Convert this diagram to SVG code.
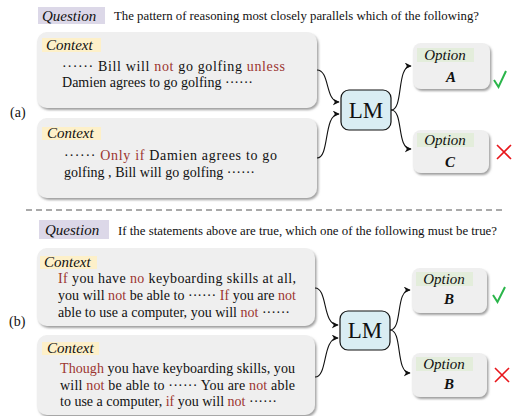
<svg xmlns="http://www.w3.org/2000/svg" width="514" height="416" viewBox="0 0 514 416">
<style>
text{font-family:"Liberation Serif","Times New Roman",serif;fill:#111}
.lab{font-style:italic;font-size:15px}
.q{font-size:12.5px}
.b{font-size:14px}
.r{fill:#9c3530}
.box{fill:#efefef;filter:url(#sh)}
.ctx{fill:#fdf0c9}
.qb{fill:#dcd8e8}
.opt{fill:#e3eddb}
.lm{fill:#d9edf3;stroke:#111;stroke-width:1.2}
.con{fill:none;stroke:#111;stroke-width:1.1;marker-end:url(#ah)}
.ok{fill:none;stroke:#2ab54a;stroke-width:2}
.no{fill:none;stroke:#e8161b;stroke-width:1.6}
.let{font-style:italic;font-weight:bold;font-size:15px;text-anchor:middle}
</style>
<defs>
<filter id="sh" x="-10%" y="-10%" width="125%" height="130%">
<feDropShadow dx="1.5" dy="2" stdDeviation="1.3" flood-color="#777" flood-opacity="0.7"/>
</filter>
<marker id="ah" viewBox="0 0 10 10" refX="9" refY="5" markerWidth="7" markerHeight="7" orient="auto" markerUnits="userSpaceOnUse">
<path d="M0,0 L10,5 L0,10 L3,5 Z" fill="#111"/>
</marker>
</defs>

<!-- Part (a) -->
<g id="q1">
<rect class="qb" x="38" y="7" width="67" height="17"/>
<text class="lab" x="42" y="20.5" font-size="16">Question</text>
<text class="q" x="114" y="20" textLength="365" lengthAdjust="spacingAndGlyphs">The pattern of reasoning most closely parallels which of the following?</text>
</g>
<text class="b" x="10" y="117" font-size="15">(a)</text>

<g id="ctx1">
<rect class="box" x="37" y="32" width="280" height="76" rx="10"/>
<rect class="ctx" x="42" y="38" width="59" height="14"/>
<text class="lab" x="46" y="49.5">Context</text>
<text class="b" x="62" y="71" textLength="223" lengthAdjust="spacing">······ Bill will <tspan class="r">not</tspan> go golfing <tspan class="r">unless</tspan></text>
<text class="b" x="62" y="87" textLength="191" lengthAdjust="spacing">Damien agrees to go golfing ······</text>
</g>

<g id="ctx2">
<rect class="box" x="37" y="118" width="280" height="80" rx="10"/>
<rect class="ctx" x="42" y="127" width="59" height="13"/>
<text class="lab" x="47" y="138">Context</text>
<text class="b" x="64" y="160" textLength="213" lengthAdjust="spacing">······ <tspan class="r">Only if</tspan> Damien agrees to go</text>
<text class="b" x="64" y="177" textLength="191" lengthAdjust="spacing">golfing , Bill will go golfing ······</text>
</g>

<g id="lm1">
<rect class="lm" x="341" y="90" width="50" height="40" rx="8"/>
<text x="366" y="118" font-size="23" text-anchor="middle">LM</text>
</g>

<g id="optA">
<rect class="box" x="413" y="43" width="77" height="46" rx="8"/>
<rect class="opt" x="417" y="48" width="57" height="14"/>
<text class="lab" x="445" y="59.5" text-anchor="middle" font-size="14">Option</text>
<text class="let" x="451" y="82">A</text>
</g>
<path class="ok" d="M494,80 L498.5,87 L506,71"/>

<g id="optC">
<rect class="box" x="413" y="130" width="76" height="43" rx="8"/>
<rect class="opt" x="417" y="133" width="57" height="14"/>
<text class="lab" x="445" y="144.5" text-anchor="middle" font-size="14">Option</text>
<text class="let" x="450" y="167">C</text>
</g>
<path class="no" d="M497,145 L511,159 M511,145 L497,159"/>

<line x1="26" y1="210" x2="506" y2="210" stroke="#555" stroke-width="1" stroke-dasharray="6,4"/>

<!-- Part (b) -->
<g id="q2">
<rect class="qb" x="39" y="220" width="70" height="19"/>
<text class="lab" x="45" y="235" font-size="16">Question</text>
<text class="q" x="118" y="235" textLength="379" lengthAdjust="spacingAndGlyphs">If the statements above are true, which one of the following must be true?</text>
</g>
<text class="b" x="9" y="326" font-size="15">(b)</text>

<g id="ctx3">
<rect class="box" x="37" y="248" width="278" height="78" rx="10"/>
<rect class="ctx" x="40" y="256" width="57" height="13"/>
<text class="lab" x="44" y="266.5">Context</text>
<text class="b" x="58" y="283" textLength="238" lengthAdjust="spacing"><tspan class="r">If</tspan> you have <tspan class="r">no</tspan> keyboarding skills at all,</text>
<text class="b" x="58" y="300" textLength="238" lengthAdjust="spacing">you will <tspan class="r">not</tspan> be able to ······ <tspan class="r">If</tspan> you are <tspan class="r">not</tspan></text>
<text class="b" x="58" y="317" textLength="232" lengthAdjust="spacing">able to use a computer, you will <tspan class="r">not</tspan> ······</text>
</g>

<g id="ctx4">
<rect class="box" x="37" y="335" width="278" height="80" rx="10"/>
<rect class="ctx" x="42" y="342" width="57" height="13"/>
<text class="lab" x="47" y="352.5">Context</text>
<text class="b" x="60" y="373" textLength="235" lengthAdjust="spacing"><tspan class="r">Though</tspan> you have keyboarding skills, you</text>
<text class="b" x="60" y="390" textLength="235" lengthAdjust="spacing">will <tspan class="r">not</tspan> be able to ······ You are <tspan class="r">not</tspan> able</text>
<text class="b" x="60" y="406" textLength="217" lengthAdjust="spacing">to use a computer, <tspan class="r">if</tspan> you will <tspan class="r">not</tspan> ······</text>
</g>

<g id="lm2">
<rect class="lm" x="340" y="311" width="50" height="39" rx="8"/>
<text x="365" y="338" font-size="23" text-anchor="middle">LM</text>
</g>

<g id="optB1">
<rect class="box" x="412" y="268" width="75" height="45" rx="8"/>
<rect class="opt" x="416" y="272" width="57" height="14"/>
<text class="lab" x="444" y="283.5" text-anchor="middle" font-size="14">Option</text>
<text class="let" x="449" y="304">B</text>
</g>
<path class="ok" d="M493,295 L497.5,302 L505,287"/>

<g id="optB2">
<rect class="box" x="412" y="353" width="75" height="44" rx="8"/>
<rect class="opt" x="416" y="357" width="57" height="14"/>
<text class="lab" x="444" y="368.5" text-anchor="middle" font-size="14">Option</text>
<text class="let" x="449" y="389">B</text>
</g>
<path class="no" d="M495,368 L509,382 M509,368 L495,382"/>

<g id="connectors">
<path class="con" d="M317,70 C330,70 325,102 339,102"/>
<path class="con" d="M317,158 C330,158 323,114 339,114"/>
<path class="con" d="M391,110 C404,110 396,66 411,66"/>
<path class="con" d="M391,110 C404,110 396,149 411,149"/>
<path class="con" d="M315,288 C328,288 322,325 338,325"/>
<path class="con" d="M315,377 C328,377 322,338 338,338"/>
<path class="con" d="M390,330 C403,330 395,290 410,290"/>
<path class="con" d="M390,330 C403,330 395,373 410,373"/>
</g>
</svg>
